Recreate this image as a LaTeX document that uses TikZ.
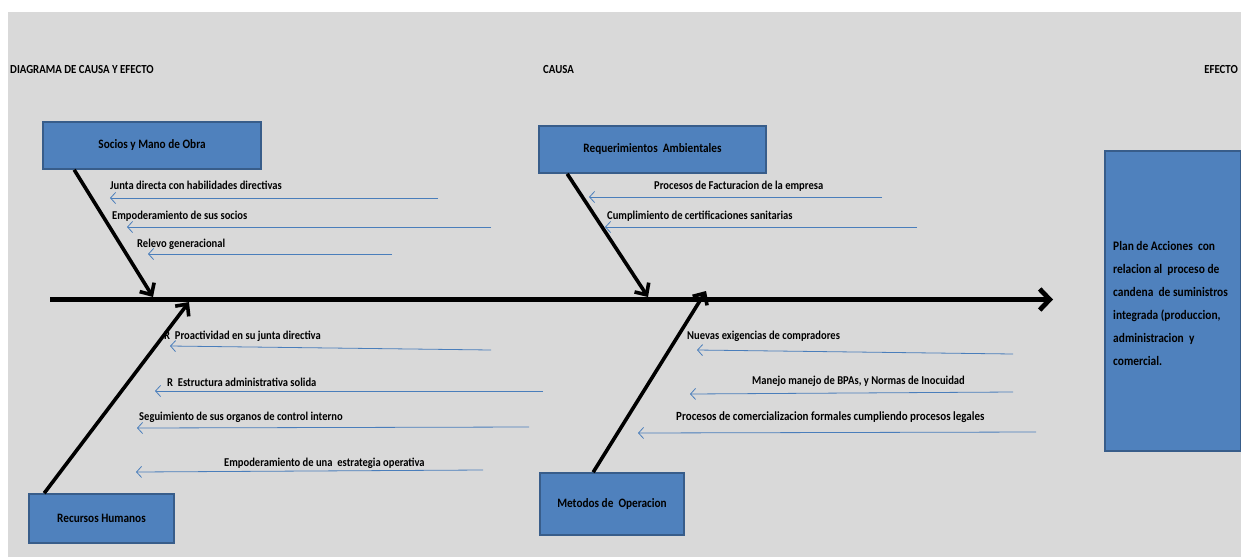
\documentclass[tikz,border=0pt]{standalone}
\usepackage{fontspec}
\setmainfont[FakeStretch=0.88]{Carlito}
\usetikzlibrary{arrows.meta}
\definecolor{bggray}{HTML}{D9D9D9}
\definecolor{boxfill}{HTML}{4F81BD}
\definecolor{boxline}{HTML}{385D8A}
\definecolor{arrblue}{HTML}{4A7EBB}
\tikzset{
  cbox/.style={draw=boxline, line width=1.6pt, fill=boxfill, inner sep=0pt, font=\bfseries\fontsize{12.8}{14}\selectfont},
  lbl/.style={anchor=west, inner sep=0pt, font=\bfseries\fontsize{12}{14}\selectfont},
  biglbl/.style={anchor=west, inner sep=0pt, font=\bfseries\fontsize{12.5}{15}\selectfont},
  title/.style={inner sep=0pt, font=\bfseries\fontsize{12.3}{14}\selectfont},
  bone/.style={line width=3.6pt, -{Straight Barb[length=9pt,width=17pt]}},
  spine/.style={line width=4.8pt, -{Straight Barb[length=10pt,width=21pt]}},
  barrow/.style={draw=arrblue, line width=0.8pt, -{Straight Barb[length=5pt,width=11pt]}}
}
\begin{document}
\begin{tikzpicture}[x=1pt,y=-1pt]
\useasboundingbox (0,0) rectangle (1241,557);
\fill[bggray] (8,12) rectangle (1241,557);

% titles
\node[title, anchor=west] (ttl) at (10,70) {DIAGRAMA DE CAUSA Y EFECTO};
\node[title, anchor=west] (causa) at (543,70) {CAUSA};
\node[title, anchor=east] (efecto) at (1238,70) {EFECTO};

% category boxes
\node[cbox, minimum width=218pt, minimum height=47pt] (socios) at (152,145.5) {Socios y Mano de Obra};
\node[cbox, minimum width=227pt, minimum height=47pt] (reque) at (652.5,149.5) {Requerimientos~ Ambientales};
\node[cbox, minimum width=145pt, minimum height=49pt] (rrhh) at (101.5,518.5) {Recursos Humanos};
\node[cbox, minimum width=144pt, minimum height=62pt] (metodos) at (612,504) {Metodos de~ Operacion};
\node[cbox, minimum width=136pt, minimum height=300pt] (plan) at (1173,301) {};
\node[anchor=base west, inner sep=0pt, align=left, font=\bfseries\fontsize{13}{23}\selectfont] (plantxt) at (1113,365)
  {Plan de Acciones~ con\\relacion al~ proceso de\\candena~ de suministros\\integrada (produccion,\\administracion~ y\\comercial.};

% spine
\coordinate (spL) at (50,299.5);
\coordinate (spR) at (1053,299.5);
\draw[spine] (spL) -- (spR);

% bones
\coordinate (b1) at (153,297);
\coordinate (b2) at (648,297);
\coordinate (b3) at (189,302);
\coordinate (b4) at (706,291);
\draw[bone] ([xshift=32pt]socios.south west) -- (b1);
\draw[bone] ([xshift=29pt]reque.south west) -- (b2);
\draw[bone] ([xshift=16pt]rrhh.north west) -- (b3);
\draw[bone] ([xshift=54pt]metodos.north west) -- (b4);

% labels
\node[lbl] (t1) at (110,185) {Junta directa con habilidades directivas};
\node[lbl] (t2) at (112,216) {Empoderamiento de sus socios};
\node[lbl] (t3) at (137,244) {Relevo generacional};
\node[lbl] (t4) at (654,186) {Procesos de Facturacion de la empresa};
\node[lbl] (t5) at (607,216) {Cumplimiento de certificaciones sanitarias};
\node[lbl] (t6) at (164,336) {R~ Proactividad en su junta directiva};
\node[lbl] (t7) at (167,382) {R~ Estructura administrativa solida};
\node[lbl] (t8) at (139,417) {Seguimiento de sus organos de control interno};
\node[lbl] (t9) at (224,463) {Empoderamiento de una~ estrategia operativa};
\node[lbl] (t10) at (687,336) {Nuevas exigencias de compradores};
\node[lbl] (t11) at (752,381) {Manejo manejo de BPAs, y Normas de Inocuidad};
\node[biglbl] (t12) at (676,417) {Procesos de comercializacion formales cumpliendo procesos legales};

% blue arrows
\coordinate (a1r) at (438,198);  \coordinate (a1l) at (110,198);
\coordinate (a2r) at (491,227);  \coordinate (a2l) at (127,227);
\coordinate (a3r) at (392,254);  \coordinate (a3l) at (148,254);
\coordinate (a4r) at (882,197);  \coordinate (a4l) at (589,197);
\coordinate (a5r) at (917,227);  \coordinate (a5l) at (605,227);
\coordinate (a6r) at (491,350);  \coordinate (a6l) at (170,346);
\coordinate (a7r) at (543,391);  \coordinate (a7l) at (155,391);
\coordinate (a8r) at (529,427);  \coordinate (a8l) at (137,428);
\coordinate (a9r) at (483,470);  \coordinate (a9l) at (136,472);
\coordinate (a10r) at (1013,354); \coordinate (a10l) at (697,350);
\coordinate (a11r) at (1013,392); \coordinate (a11l) at (690,394);
\coordinate (a12r) at (1036,432); \coordinate (a12l) at (638,433);
\foreach \i in {1,...,12} {\draw[barrow] (a\i r) -- (a\i l);}
\end{tikzpicture}
\end{document}
